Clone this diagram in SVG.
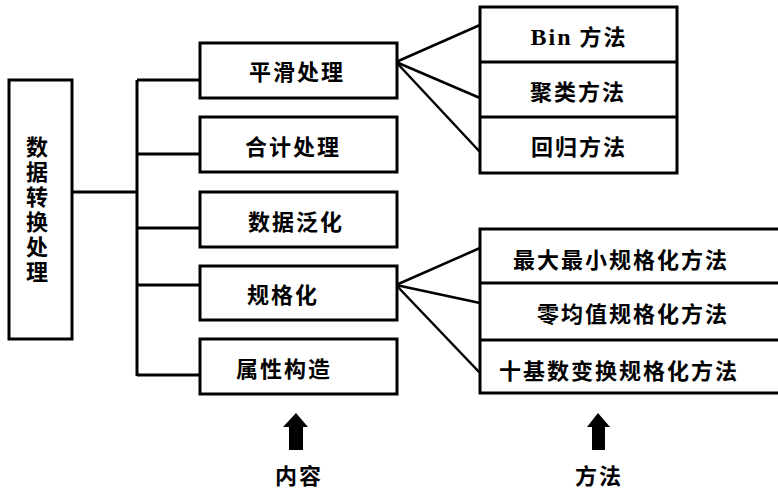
<svg xmlns="http://www.w3.org/2000/svg" width="778" height="493" viewBox="0 0 778 493">
<style>
.box{fill:#fff;stroke:#000;stroke-width:3}
.ln{fill:none;stroke:#000;stroke-width:3}
.fan{fill:none;stroke:#000;stroke-width:2.5}
.t{font-family:"Noto Sans CJK SC","Noto Sans CJK JP",sans-serif;font-weight:bold;font-size:22px;letter-spacing:2px;text-anchor:middle;fill:#000}
.v{writing-mode:vertical-rl;text-orientation:upright;letter-spacing:3px}
.ser{font-family:"Liberation Serif",serif;font-size:24px;letter-spacing:2px}
.arr{fill:#000}
</style>
<rect width="778" height="493" fill="#fff"/>
<g id="connectors">
<polyline class="ln" points="72,192 137,192"/>
<polyline class="ln" points="137,80 137,376"/>
<polyline class="ln" points="137,80 200,80"/>
<polyline class="ln" points="137,154 200,154"/>
<polyline class="ln" points="137,228 200,228"/>
<polyline class="ln" points="137,285 200,285"/>
<polyline class="ln" points="137,375 200,375"/>
<polyline class="fan" points="396,62 480,25"/>
<polyline class="fan" points="396,62 480,98"/>
<polyline class="fan" points="396,62 480,152"/>
<polyline class="fan" points="396,285 480,248"/>
<polyline class="fan" points="396,285 480,303"/>
<polyline class="fan" points="396,285 480,373"/>
</g>
<g id="root">
<rect class="box" x="9" y="80" width="63" height="259"/>
<text class="t v" x="37" y="211">数据转换处理</text>
</g>
<g id="n-smooth">
<rect class="box" x="200" y="43" width="197" height="55"/>
<text class="t" x="297" y="80">平滑处理</text>
</g>
<g id="n-sum">
<rect class="box" x="200" y="117" width="197" height="55"/>
<text class="t" x="293" y="155">合计处理</text>
</g>
<g id="n-general">
<rect class="box" x="200" y="192" width="197" height="55"/>
<text class="t" x="296" y="230">数据泛化</text>
</g>
<g id="n-norm">
<rect class="box" x="200" y="266" width="197" height="54"/>
<text class="t" x="283" y="303">规格化</text>
</g>
<g id="n-attr">
<rect class="box" x="200" y="339" width="197" height="55"/>
<text class="t" x="284" y="377">属性构造</text>
</g>
<g id="m-smooth">
<rect class="box" x="480" y="7" width="197" height="166"/>
<line class="ln" x1="480" y1="62" x2="677" y2="62"/>
<line class="ln" x1="480" y1="117" x2="677" y2="117"/>
<text class="t" x="579" y="45"><tspan class="ser">Bin</tspan> 方法</text>
<text class="t" x="578" y="100">聚类方法</text>
<text class="t" x="579" y="155">回归方法</text>
</g>
<g id="m-norm">
<rect class="box" x="480" y="229" width="310" height="164"/>
<line class="ln" x1="480" y1="283" x2="790" y2="283"/>
<line class="ln" x1="480" y1="340" x2="790" y2="340"/>
<text class="t" x="621" y="268">最大最小规格化方法</text>
<text class="t" x="633" y="322">零均值规格化方法</text>
<text class="t" x="619" y="379">十基数变换规格化方法</text>
</g>
<g id="label-content">
<polygon class="arr" points="296,413 308,427 303,427 303,450 289,450 289,427 283,427"/>
<text class="t" x="299" y="484">内容</text>
</g>
<g id="label-method">
<polygon class="arr" points="598,413 610,427 605,427 605,450 592,450 592,427 587,427"/>
<text class="t" x="599" y="484">方法</text>
</g>
</svg>
